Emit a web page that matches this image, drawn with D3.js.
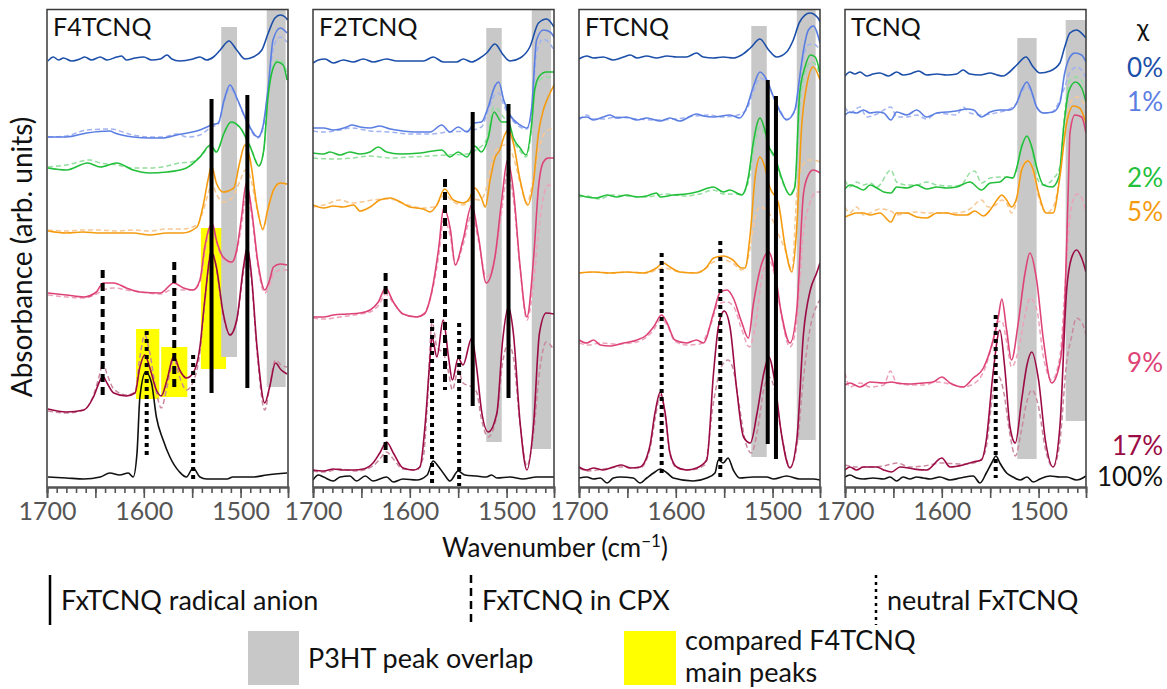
<!DOCTYPE html>
<html>
<head>
<meta charset="utf-8">
<script src="https://cdn.jsdelivr.net/npm/d3@7"></script>
<style>
  body { margin: 0; background: #fff; }
  svg { display: block; font-family: Lato, "Open Sans", sans-serif; }
</style>
</head>
<body>
<svg id="chart" width="1167" height="689"></svg>
<script>
// ---------- data ----------
const panelNames = ["F4TCNQ", "F2TCNQ", "FTCNQ", "TCNQ"];
const dopingLevels = ["0%", "1%", "2%", "5%", "9%", "17%", "100%"];
const tickLabels = [1700, 1600, 1500];

// spectra: [wavenumber (cm-1), offset absorbance (arb. units)]
// F4TCNQ
const F4_0 = [[1699,4.26],[1693.5,4.30],[1688,4.27],[1683,4.29],[1674.5,4.26],[1666,4.28],[1661,4.30],[1654,4.27],[1645,4.30],[1638,4.27],[1628,4.30],[1623,4.31],[1618,4.27],[1609,4.29],[1600,4.30],[1592,4.27],[1583,4.28],[1576,4.32],[1571,4.28],[1563,4.26],[1549,4.28],[1542,4.30],[1535,4.27],[1528,4.30],[1521,4.37],[1512,4.46],[1504,4.37],[1495.5,4.28],[1487,4.30],[1478,4.37],[1471.4,4.54],[1464.5,4.69],[1459,4.72],[1454,4.70],[1451.5,4.67]];
const F4_1 = [[1699,3.50],[1680,3.50],[1659,3.54],[1635,3.56],[1630,3.54],[1611,3.50],[1594,3.49],[1580,3.49],[1566,3.52],[1555,3.54],[1542,3.57],[1530,3.62],[1523,3.64],[1517,3.87],[1511,4.02],[1503,3.87],[1494,3.67],[1482,3.50],[1477,3.60],[1471,4.04],[1466.5,4.47],[1459,4.59],[1452,4.54]];
const F4_1d = [[1699,3.50],[1680,3.51],[1659,3.57],[1635,3.58],[1611,3.52],[1594,3.50],[1580,3.50],[1566,3.53],[1555,3.50],[1542,3.52],[1530,3.60],[1523,3.63],[1517,3.85],[1511,3.99],[1503,3.86],[1494,3.66],[1482,3.49],[1477,3.58],[1471,4.00],[1466,4.40],[1459,4.50],[1452,4.45]];
const F4_2 = [[1699,3.19],[1680,3.17],[1658,3.24],[1645,3.20],[1628,3.24],[1611,3.17],[1594,3.14],[1576,3.15],[1556,3.19],[1542,3.30],[1531,3.42],[1525,3.35],[1517,3.54],[1510,3.65],[1501,3.60],[1490,3.40],[1481,3.21],[1476,3.37],[1472,3.87],[1467,4.17],[1462,4.25],[1456,4.22],[1452,4.07]];
const F4_2d = [[1699,3.20],[1680,3.22],[1656,3.27],[1645,3.24],[1628,3.22],[1611,3.19],[1594,3.19],[1576,3.21],[1563,3.24],[1551,3.25],[1542,3.30],[1531,3.40],[1525,3.35],[1517,3.54],[1510,3.64],[1501,3.60],[1490,3.41],[1481,3.22],[1476,3.37],[1472,3.87],[1467,4.18],[1462,4.27],[1456,4.25],[1452,4.12]];
const F4_5 = [[1699,2.56],[1680,2.54],[1663,2.55],[1645,2.54],[1628,2.54],[1611,2.54],[1594,2.52],[1576,2.54],[1560,2.54],[1545,2.60],[1539,2.80],[1533,3.10],[1530,3.21],[1525,3.04],[1518,2.95],[1507,2.99],[1501,3.24],[1495.5,3.42],[1490,3.27],[1483,2.80],[1477,2.58],[1472,2.77],[1466,2.97],[1459,3.04],[1452,3.03]];
const F4_5d = [[1699,2.57],[1680,2.56],[1663,2.57],[1645,2.57],[1628,2.56],[1611,2.57],[1594,2.56],[1576,2.58],[1560,2.58],[1545,2.62],[1539,2.75],[1533,2.95],[1530,3.04],[1525,2.93],[1518,2.85],[1510,2.88],[1501,3.05],[1495,3.17],[1490,3.10],[1483,2.78],[1477,2.57],[1472,2.75],[1466,2.96],[1459,3.03],[1452,3.03]];
const F4_9 = [[1699,1.94],[1680,1.92],[1662,1.90],[1649,1.95],[1642,2.04],[1631,2.04],[1618,1.99],[1604,1.95],[1583,1.94],[1569,2.04],[1559,1.99],[1549,1.97],[1542,2.07],[1537,2.40],[1532,2.60],[1529,2.63],[1525,2.47],[1518,2.30],[1509,2.25],[1504,2.37],[1499,2.70],[1494,3.04],[1489,2.80],[1482,2.24],[1475,1.97],[1470,2.07],[1466,2.20],[1459,2.23],[1452,2.22]];
const F4_9d = [[1699,1.92],[1680,1.90],[1662,1.89],[1649,1.93],[1642,1.97],[1631,1.99],[1618,1.97],[1604,1.95],[1583,1.93],[1569,1.98],[1559,1.97],[1549,1.97],[1542,2.05],[1537,2.35],[1532,2.58],[1529,2.60],[1525,2.45],[1518,2.28],[1509,2.24],[1504,2.35],[1499,2.62],[1494,2.92],[1489,2.74],[1482,2.20],[1475,1.94],[1470,2.02],[1466,2.13],[1459,2.17],[1452,2.17]];
const F4_17 = [[1699,0.78],[1680,0.75],[1662,0.77],[1652,0.90],[1645,1.07],[1642.5,1.11],[1638,1.04],[1631,0.94],[1618,0.91],[1609,0.94],[1604,1.20],[1599,1.32],[1594,1.20],[1587,0.97],[1582,0.91],[1576,1.07],[1569,1.31],[1563,1.17],[1556,1.09],[1549,1.14],[1542,1.40],[1537,1.87],[1530,2.35],[1525,2.20],[1518,1.74],[1511,1.52],[1504,1.67],[1497,2.20],[1493,2.40],[1489,2.14],[1483,1.40],[1475,0.84],[1470,1.00],[1464,1.24],[1458,1.17],[1452,1.13]];
const F4_17d = [[1699,0.76],[1680,0.74],[1662,0.77],[1652,0.92],[1645,1.15],[1642.5,1.25],[1638,1.13],[1631,0.98],[1618,0.92],[1609,0.95],[1604,1.30],[1599,1.52],[1594,1.35],[1587,0.95],[1582,0.79],[1576,1.00],[1569,1.28],[1563,1.10],[1556,0.97],[1549,1.05],[1542,1.35],[1537,1.85],[1530,2.38],[1525,2.18],[1518,1.72],[1511,1.52],[1504,1.66],[1497,2.15],[1493,2.36],[1489,2.10],[1483,1.35],[1475,0.77],[1470,1.00],[1464,1.27],[1458,1.22],[1452,1.20]];
const F4_100 = [[1699,0.10],[1680,0.09],[1662,0.08],[1645,0.10],[1635,0.14],[1625,0.12],[1616,0.14],[1611,0.10],[1607,0.34],[1604,0.90],[1598,1.15],[1592,1.04],[1587,0.70],[1580,0.47],[1573,0.30],[1563,0.15],[1556,0.10],[1549,0.19],[1542,0.10],[1535,0.08],[1514,0.08],[1508,0.10],[1487,0.10],[1473,0.12],[1452,0.14]];

// F2TCNQ
const F2_0 = [[1700,4.24],[1694.5,4.27],[1687.6,4.28],[1679,4.24],[1668.7,4.27],[1658.4,4.25],[1648,4.28],[1637.7,4.25],[1624,4.28],[1613.5,4.26],[1600,4.26],[1586,4.26],[1575.7,4.30],[1565.4,4.25],[1551.6,4.25],[1544.7,4.28],[1536,4.25],[1527.5,4.29],[1520.6,4.34],[1512,4.43],[1503.4,4.32],[1496.5,4.26],[1486,4.29],[1476,4.40],[1467,4.64],[1458.6,4.68],[1451,4.60]];
const F2_1 = [[1700,3.59],[1689,3.59],[1679,3.57],[1665,3.60],[1660,3.62],[1651.5,3.60],[1641,3.59],[1631,3.61],[1620,3.58],[1607,3.56],[1593,3.55],[1579,3.55],[1567,3.62],[1558.5,3.55],[1550,3.60],[1541,3.55],[1533,3.64],[1526,3.65],[1519,3.80],[1512,4.01],[1508,4.05],[1503,3.87],[1496.5,3.72],[1486,3.62],[1479,3.59],[1474,3.80],[1469,4.47],[1462,4.57],[1455,4.55],[1451,4.50]];
const F2_1d = [[1700,3.56],[1689,3.55],[1672,3.57],[1660,3.59],[1641,3.56],[1620,3.55],[1600,3.53],[1579,3.53],[1560,3.55],[1541,3.56],[1526,3.60],[1519,3.77],[1512,3.92],[1508,3.94],[1503,3.82],[1496.5,3.70],[1486,3.60],[1479,3.58],[1474,3.75],[1469,4.35],[1462,4.48],[1455,4.43],[1451,4.37]];
const F2_2 = [[1700,3.34],[1689,3.33],[1682.5,3.35],[1672,3.32],[1662,3.35],[1651.5,3.33],[1641,3.35],[1632.5,3.40],[1624,3.35],[1610,3.33],[1589,3.34],[1567,3.37],[1558.5,3.30],[1550,3.35],[1541,3.30],[1533,3.41],[1526,3.35],[1519,3.49],[1513,3.75],[1505,3.65],[1498,3.65],[1493,3.49],[1486,3.39],[1480,3.32],[1474,3.64],[1471,3.97],[1466,4.11],[1459,4.15],[1451,4.15]];
const F2_2d = [[1700,3.29],[1680,3.28],[1660,3.29],[1641,3.31],[1620,3.29],[1600,3.30],[1580,3.31],[1560,3.32],[1541,3.33],[1530,3.38],[1521,3.47],[1513,3.80],[1505,3.72],[1498,3.62],[1493,3.47],[1486,3.36],[1480,3.30],[1474,3.60],[1471,3.95],[1466,4.07],[1459,4.10],[1451,4.09]];
const F2_5 = [[1700,2.82],[1689,2.79],[1679,2.81],[1669,2.80],[1658,2.82],[1651.5,2.76],[1641,2.80],[1631,2.87],[1620,2.89],[1610,2.85],[1600,2.80],[1586,2.78],[1579,2.75],[1572,2.82],[1564,2.98],[1555,2.87],[1545,2.84],[1538,2.89],[1533,2.99],[1526,2.89],[1522,2.80],[1517,3.07],[1512,3.29],[1507,3.37],[1502,3.52],[1498,3.57],[1493,3.44],[1486,3.07],[1478,2.82],[1472.4,3.04],[1467,3.54],[1462,3.77],[1457,3.90],[1451,4.02]];
const F2_5d = [[1700,2.80],[1689,2.82],[1672,2.87],[1660,2.84],[1650,2.85],[1638,2.87],[1620,2.88],[1605,2.83],[1586,2.79],[1575,2.80],[1564,2.92],[1555,2.85],[1545,2.82],[1535,2.88],[1528,2.87],[1522,2.95],[1517,3.17],[1512,3.35],[1507,3.40],[1502,3.42],[1498,3.40],[1493,3.30],[1486,3.04],[1479,2.84],[1472,3.10],[1466,3.40],[1460,3.55],[1451,3.59]];
const F2_9 = [[1700,1.70],[1689,1.70],[1679,1.72],[1665,1.73],[1651.5,1.74],[1641,1.77],[1632.5,1.85],[1625,1.99],[1617,1.85],[1607,1.73],[1593,1.70],[1585,1.73],[1577,1.97],[1570,2.40],[1565,2.79],[1558,2.57],[1553,2.22],[1545,2.47],[1536,2.82],[1529,2.50],[1521,2.04],[1512,2.30],[1505,2.87],[1499,3.27],[1493,2.97],[1486,2.20],[1479,1.70],[1472,2.30],[1467,3.00],[1462,3.25],[1457,3.29],[1451,3.29]];
const F2_9d = [[1700,1.69],[1689,1.68],[1672,1.70],[1651.5,1.73],[1641,1.75],[1632,1.82],[1625,1.93],[1617,1.84],[1607,1.73],[1593,1.70],[1585,1.74],[1577,1.95],[1570,2.32],[1565,2.67],[1558,2.50],[1553,2.22],[1545,2.42],[1536,2.72],[1529,2.46],[1521,2.10],[1512,2.30],[1505,2.76],[1499,3.14],[1493,2.88],[1486,2.18],[1479,1.67],[1472,2.05],[1467,2.55],[1462,2.90],[1457,3.02],[1451,3.00]];
const F2_17 = [[1700,0.17],[1689,0.16],[1679,0.18],[1669,0.17],[1658,0.17],[1648,0.18],[1638,0.24],[1631,0.34],[1624,0.45],[1617,0.34],[1607,0.19],[1596,0.17],[1589.5,0.20],[1584,0.64],[1579,1.30],[1577,1.50],[1572,1.30],[1565.5,1.67],[1560,1.30],[1556,1.07],[1550,1.29],[1545,1.22],[1536,1.49],[1531,1.20],[1526,0.77],[1519,0.55],[1510,0.74],[1504,1.47],[1498,1.80],[1493,1.54],[1486,0.64],[1479,0.17],[1472,0.64],[1466,1.54],[1459,1.74],[1451,1.73]];
const F2_17d = [[1700,0.16],[1689,0.15],[1672,0.18],[1655,0.16],[1638,0.21],[1631,0.28],[1624,0.35],[1617,0.28],[1607,0.18],[1593,0.17],[1586,0.30],[1582,0.80],[1577,1.65],[1572,1.40],[1565,1.33],[1560,1.15],[1556,0.97],[1550,1.17],[1545,1.04],[1536,1.00],[1531,0.95],[1526,0.68],[1519,0.50],[1510,0.72],[1504,1.25],[1498,1.43],[1493,1.30],[1486,0.62],[1479,0.21],[1472,0.55],[1466,1.15],[1459,1.45],[1451,1.37]];
const F2_100 = [[1700,0.07],[1694.5,0.12],[1689,0.10],[1679,0.06],[1672,0.10],[1662,0.11],[1655,0.06],[1646,0.11],[1638,0.06],[1624,0.10],[1617,0.05],[1607,0.08],[1593,0.07],[1582,0.12],[1576,0.26],[1570,0.20],[1564,0.12],[1558.5,0.06],[1550,0.16],[1543,0.12],[1531,0.11],[1521,0.10],[1515.5,0.12],[1510,0.09],[1496.5,0.10],[1483,0.08],[1469,0.10],[1451,0.10]];

// FTCNQ
const F1_0 = [[1700,4.28],[1692,4.31],[1685,4.29],[1675,4.30],[1664.5,4.27],[1654,4.30],[1647,4.32],[1640,4.29],[1630,4.31],[1620,4.29],[1609,4.31],[1599,4.30],[1589,4.30],[1578.5,4.34],[1571.6,4.30],[1561,4.29],[1551,4.30],[1540.6,4.29],[1532,4.32],[1523,4.39],[1513,4.48],[1504,4.37],[1496,4.30],[1485.5,4.35],[1478.6,4.47],[1472,4.65],[1461.4,4.74],[1453,4.69],[1451,4.65]];
const F1_1 = [[1700,3.69],[1692,3.70],[1685,3.67],[1675,3.70],[1668,3.72],[1661,3.69],[1651,3.70],[1640,3.67],[1630,3.69],[1616,3.66],[1606,3.69],[1596,3.66],[1578.5,3.73],[1571.6,3.71],[1561,3.70],[1544,3.72],[1534,3.69],[1527,3.79],[1520,4.00],[1513,4.15],[1506,4.07],[1499,3.90],[1492,3.75],[1485.5,3.67],[1477,3.77],[1472,4.10],[1468,4.37],[1463,4.57],[1458,4.61],[1451,4.44]];
const F1_1d = [[1700,3.67],[1692,3.72],[1685,3.68],[1675,3.68],[1661,3.70],[1640,3.68],[1620,3.67],[1600,3.68],[1580,3.71],[1566,3.72],[1552,3.70],[1540,3.71],[1527,3.77],[1520,3.95],[1513,4.09],[1506,4.04],[1499,3.90],[1492,3.76],[1485.5,3.68],[1477,3.76],[1472,4.05],[1468,4.30],[1463,4.42],[1458,4.43],[1451,4.37]];
const F1_2 = [[1700,2.92],[1692,2.90],[1682,2.89],[1671,2.92],[1661,2.90],[1651,2.92],[1640,2.90],[1630,2.91],[1620,2.94],[1616,2.90],[1602.6,2.92],[1589,2.93],[1578.5,2.95],[1561,3.00],[1551,2.95],[1544,2.97],[1532,2.92],[1525,3.10],[1520,3.44],[1513,3.69],[1508,3.57],[1504,3.41],[1497.5,3.30],[1491,3.10],[1482,2.92],[1477,3.00],[1472,3.94],[1466.5,4.20],[1461,4.32],[1456,4.30],[1451,4.14]];
const F1_2d = [[1700,2.90],[1692,2.91],[1680,2.88],[1665,2.92],[1650,2.91],[1630,2.90],[1610,2.93],[1590,2.91],[1575,2.93],[1561,2.97],[1551,2.93],[1540,2.93],[1532,2.93],[1525,3.05],[1520,3.35],[1513,3.60],[1508,3.52],[1504,3.40],[1497.5,3.27],[1491,3.08],[1482,2.93],[1477,3.02],[1472,3.80],[1466,4.15],[1460,4.25],[1455,4.22],[1451,4.10]];
const F1_5 = [[1700,2.14],[1685,2.15],[1668,2.14],[1651,2.15],[1633.6,2.14],[1620,2.19],[1613,2.24],[1606,2.20],[1596,2.15],[1578.5,2.14],[1568,2.20],[1561,2.29],[1551,2.31],[1541,2.27],[1532,2.19],[1528.5,2.19],[1523,2.54],[1518,3.10],[1513,3.30],[1508,3.20],[1503,3.00],[1494,2.84],[1487,2.40],[1480,2.15],[1475,2.60],[1470,3.60],[1465,4.00],[1458,4.20],[1451,4.07]];
const F1_5d = [[1700,2.14],[1685,2.15],[1668,2.14],[1651,2.15],[1630,2.14],[1620,2.17],[1613,2.19],[1600,2.16],[1585,2.14],[1571,2.17],[1561,2.25],[1550,2.27],[1540,2.23],[1532,2.17],[1528,2.20],[1523,2.40],[1518,2.70],[1513,2.80],[1506,2.77],[1500,2.67],[1494,2.53],[1487,2.37],[1480,2.17],[1475,2.94],[1470,3.20],[1463,3.27],[1458,3.27],[1451,3.25]];
const F1_9 = [[1700,1.47],[1692,1.44],[1685,1.47],[1678,1.42],[1668,1.41],[1654,1.44],[1640,1.47],[1630,1.52],[1623,1.60],[1614.6,1.72],[1609,1.64],[1601,1.47],[1589,1.44],[1578.5,1.47],[1571.6,1.44],[1561,1.74],[1554,1.95],[1547,1.97],[1540.6,1.89],[1532,1.65],[1525,1.49],[1520,1.82],[1511,2.24],[1504,2.35],[1497.5,2.14],[1491,1.74],[1482,1.44],[1475,1.77],[1468,2.94],[1463,3.12],[1458,3.17],[1451,3.14]];
const F1_9d = [[1700,1.44],[1690,1.42],[1678,1.44],[1660,1.43],[1640,1.45],[1630,1.50],[1623,1.57],[1615,1.68],[1609,1.62],[1601,1.46],[1589,1.42],[1575,1.43],[1564,1.62],[1556,1.83],[1547,1.85],[1540,1.80],[1532,1.58],[1524,1.40],[1518,1.60],[1511,2.10],[1504,2.27],[1497.5,2.10],[1491,1.72],[1482,1.40],[1475,1.65],[1468,2.55],[1461,2.85],[1455,2.95],[1451,2.95]];
const F1_17 = [[1700,0.20],[1692,0.17],[1685,0.19],[1675,0.17],[1664.5,0.20],[1656,0.22],[1647,0.19],[1637,0.20],[1627,0.40],[1621.5,0.74],[1616,0.95],[1611,0.74],[1606,0.34],[1599,0.20],[1589,0.17],[1578.5,0.19],[1568,0.27],[1561,1.14],[1556,1.60],[1550,1.76],[1544,1.60],[1537,0.97],[1530,0.50],[1523,0.44],[1516,0.74],[1509,1.14],[1504,1.30],[1498,1.07],[1491,0.54],[1482,0.19],[1475,0.47],[1468,1.54],[1461,1.97],[1454.5,2.14],[1451,2.24]];
const F1_17d = [[1700,0.19],[1690,0.16],[1675,0.18],[1656,0.20],[1637,0.19],[1627,0.37],[1621,0.70],[1616,0.92],[1611,0.72],[1606,0.33],[1599,0.19],[1585,0.17],[1570,0.22],[1561,0.85],[1553,1.20],[1546,1.27],[1540,1.15],[1535,0.85],[1528,0.45],[1522,0.34],[1515,0.60],[1509,0.98],[1504,1.10],[1498,0.98],[1491,0.54],[1482,0.20],[1475,0.40],[1468,1.10],[1461,1.60],[1455,1.80],[1451,1.87]];
const F1_100 = [[1700,0.09],[1692,0.10],[1685,0.08],[1678,0.09],[1671,0.04],[1664.5,0.09],[1657.6,0.10],[1644,0.09],[1637,0.04],[1630,0.09],[1623,0.14],[1616,0.18],[1609,0.14],[1602.6,0.09],[1582,0.06],[1568,0.09],[1559.5,0.14],[1556,0.27],[1551,0.24],[1546,0.29],[1540.6,0.17],[1534,0.09],[1520,0.10],[1506,0.10],[1499,0.08],[1485.5,0.11],[1472,0.08],[1458,0.08],[1451,0.07]];

// TCNQ
const T_0 = [[1700,4.11],[1695,4.15],[1689.7,4.13],[1684.5,4.15],[1677.6,4.11],[1671,4.13],[1664,4.14],[1655,4.11],[1646.6,4.15],[1640,4.12],[1633,4.13],[1624,4.16],[1615.6,4.12],[1605,4.13],[1595,4.12],[1584.6,4.13],[1578,4.17],[1571,4.13],[1560.5,4.12],[1550,4.14],[1543,4.12],[1536.5,4.11],[1530,4.15],[1522.6,4.22],[1513,4.30],[1505.5,4.20],[1498.6,4.14],[1488,4.16],[1478,4.24],[1473,4.40],[1467.6,4.54],[1460.7,4.57],[1453.8,4.52],[1451,4.49]];
const T_1 = [[1700,3.72],[1695,3.75],[1688,3.74],[1681,3.77],[1674,3.74],[1667,3.75],[1660,3.74],[1652.5,3.67],[1646.6,3.75],[1636,3.72],[1626,3.77],[1615.6,3.70],[1605,3.74],[1595,3.75],[1584.6,3.76],[1574,3.78],[1567,3.77],[1559,3.70],[1550,3.75],[1540,3.77],[1530,3.77],[1522.6,3.84],[1517.5,3.97],[1512,4.05],[1507,3.95],[1502,3.80],[1495,3.74],[1485,3.75],[1478,3.84],[1473,4.14],[1467.6,4.30],[1462.5,4.34],[1455.5,4.32],[1451,4.25]];
const T_1d = [[1700,3.80],[1695,3.74],[1684.5,3.80],[1677.6,3.70],[1667,3.73],[1652.5,3.80],[1646.6,3.70],[1636,3.70],[1626,3.72],[1615.6,3.68],[1605,3.74],[1584.6,3.72],[1578,3.80],[1571,3.74],[1559,3.72],[1540,3.75],[1530,3.78],[1522.6,3.84],[1517.5,3.95],[1512,4.01],[1507,3.93],[1502,3.80],[1495,3.74],[1488,3.74],[1478,3.87],[1473,4.00],[1467.6,4.15],[1460,4.20],[1455,4.16],[1451,4.09]];
const T_2 = [[1700,2.98],[1695,3.02],[1688,3.00],[1681,2.97],[1674,3.02],[1667,2.99],[1660,2.95],[1652.5,2.94],[1646.6,3.00],[1636,2.99],[1626,3.02],[1615.6,2.98],[1605,3.00],[1595,2.99],[1584.6,3.00],[1571,3.05],[1559,2.97],[1550,3.04],[1540,3.05],[1533,3.10],[1526.5,3.09],[1522.6,3.19],[1517.5,3.40],[1512,3.51],[1507,3.40],[1502,3.20],[1495,3.02],[1486,3.00],[1479,3.10],[1474,3.60],[1469,3.95],[1462,4.05],[1455.5,3.99],[1451,3.85]];
const T_2d = [[1700,3.07],[1695,3.00],[1688,3.05],[1681,3.02],[1674,3.04],[1667,3.00],[1652.5,3.17],[1646.6,3.05],[1636,3.02],[1626,3.02],[1615.6,3.05],[1605,3.02],[1590,3.01],[1580,3.02],[1571,3.14],[1566,3.16],[1559,3.04],[1550,3.09],[1540,3.10],[1533,3.10],[1527,3.09],[1522.6,3.17],[1517.5,3.44],[1512,3.50],[1507,3.37],[1502,3.10],[1495,3.02],[1485,3.08],[1478,3.20],[1473,3.74],[1467.6,4.07],[1460,4.10],[1451,3.99]];
const T_5 = [[1700,2.70],[1695,2.72],[1688,2.74],[1681,2.74],[1674,2.72],[1664,2.74],[1652.5,2.65],[1646.6,2.74],[1636,2.74],[1626,2.70],[1615.6,2.69],[1605,2.74],[1595,2.74],[1584.6,2.72],[1574,2.72],[1566,2.76],[1557,2.71],[1550,2.77],[1543,2.87],[1538,2.92],[1533,2.87],[1528,2.80],[1522.6,2.89],[1517.5,3.17],[1511,3.26],[1505.5,3.17],[1500,2.94],[1492,2.74],[1485,2.74],[1478,3.10],[1471,3.64],[1464,3.81],[1457.6,3.79],[1451,3.64]];
const T_5d = [[1700,2.80],[1695,2.74],[1688,2.80],[1681,2.72],[1674,2.74],[1664,2.78],[1652.5,2.76],[1646.6,2.72],[1636,2.74],[1626,2.75],[1615.6,2.74],[1600,2.74],[1584.6,2.74],[1571,2.78],[1559,2.87],[1552,2.80],[1543,2.83],[1538,2.87],[1533,2.84],[1528,2.74],[1522.6,2.87],[1517.5,3.20],[1511,3.27],[1505.5,3.13],[1500,2.90],[1492,2.74],[1485,2.80],[1478,3.10],[1473,3.54],[1467.6,3.84],[1460,3.90],[1451,3.80]];
const T_9 = [[1700,1.02],[1695,1.04],[1684.5,1.00],[1674,1.05],[1660,1.04],[1652,1.05],[1646.6,1.04],[1633,1.03],[1619,1.04],[1609,1.05],[1600,1.10],[1591.5,1.04],[1578,1.00],[1567.5,1.09],[1557,1.19],[1547,1.47],[1541.6,1.70],[1538,1.88],[1533,1.57],[1528,1.27],[1521,1.64],[1514,2.14],[1509,2.34],[1502,2.07],[1495,1.47],[1486.5,1.04],[1478,1.24],[1473,1.80],[1469,3.10],[1467.6,3.54],[1462.5,3.72],[1455.5,3.70],[1451,3.54]];
const T_9d = [[1700,1.14],[1695,1.00],[1684.5,1.04],[1674,1.00],[1660,1.02],[1653,1.16],[1646.6,1.04],[1633,1.02],[1619,1.02],[1605,1.05],[1591.5,1.03],[1578,1.00],[1567.5,1.03],[1557,1.15],[1547,1.45],[1541.6,1.65],[1538,1.66],[1533,1.45],[1528,1.20],[1521,1.36],[1514,1.72],[1509,1.89],[1502,1.78],[1495,1.30],[1486.5,1.07],[1478,1.30],[1473,1.95],[1469,2.55],[1465,2.85],[1460,2.93],[1455,2.88],[1451,2.75]];
const T_17 = [[1700,0.17],[1695,0.20],[1688,0.17],[1681,0.20],[1667,0.20],[1660,0.17],[1652,0.15],[1643,0.20],[1629,0.18],[1615.6,0.17],[1600,0.29],[1591.5,0.20],[1578,0.22],[1567.5,0.25],[1559,0.27],[1554,0.47],[1547,1.14],[1540,1.57],[1535,1.20],[1529.5,0.60],[1524,0.44],[1517.5,0.87],[1512,1.22],[1507,1.35],[1500,1.07],[1493,0.47],[1485,0.20],[1478,0.60],[1471,1.97],[1466,2.29],[1460.7,2.37],[1455.5,2.29],[1451,2.15]];
const T_17d = [[1700,0.22],[1688,0.20],[1674,0.20],[1660,0.21],[1646,0.24],[1633,0.20],[1619,0.21],[1600,0.24],[1578,0.23],[1567,0.24],[1559,0.28],[1554,0.40],[1547,0.95],[1541,1.10],[1536,0.95],[1530,0.55],[1524,0.31],[1518,0.55],[1512,0.86],[1507,0.97],[1500,0.80],[1493,0.38],[1485,0.20],[1478,0.45],[1471,1.25],[1466,1.50],[1461,1.69],[1455,1.64],[1451,1.52]];
const T_100 = [[1700,0.10],[1695,0.12],[1688,0.09],[1681,0.08],[1671,0.09],[1660,0.08],[1653.5,0.10],[1646.6,0.06],[1640,0.10],[1633,0.08],[1626,0.10],[1619,0.09],[1612,0.08],[1602,0.10],[1591.5,0.07],[1581,0.09],[1567.5,0.11],[1560.5,0.04],[1554,0.14],[1548.5,0.24],[1544,0.31],[1540,0.24],[1533,0.14],[1526.5,0.10],[1519,0.07],[1512,0.10],[1505.5,0.05],[1498.6,0.08],[1488,0.11],[1478,0.10],[1471,0.10],[1460.7,0.07],[1451,0.11]];

// peak markers: [panel, wavenumber, upper, lower]
const radicalAnion = [["F4TCNQ",1530,3.88,0.94],["F4TCNQ",1493,3.92,0.99],["F2TCNQ",1535,3.75,0.81],["F2TCNQ",1498,3.83,0.89],["FTCNQ",1505,4.07,0.43],["FTCNQ",1496.5,3.91,0.28]];
const inCPX = [["F4TCNQ",1642.5,2.17,0.89],["F4TCNQ",1568.5,2.25,0.97],["F2TCNQ",1625,2.14,0.22],["F2TCNQ",1563.6,3.08,0.97]];
const neutral = [["F4TCNQ",1597,1.56,0.30],["F4TCNQ",1549,1.32,0.07],["F2TCNQ",1577,1.68,0.01],["F2TCNQ",1549,1.64,0.01],["FTCNQ",1614.6,2.34,0.10],["FTCNQ",1554,2.46,0.10],["TCNQ",1544.3,1.72,0.09]];
// shaded regions: [panel, from, to, upper, lower]
const p3htOverlap = [["F4TCNQ",1520,1503.7,4.60,1.30],["F4TCNQ",1473,1453.4,4.77,1.00],["F2TCNQ",1521,1505,4.59,0.45],["F2TCNQ",1474,1454,4.77,0.38],["FTCNQ",1522,1506,4.61,0.30],["FTCNQ",1475,1455.5,4.77,0.47],["TCNQ",1522,1502,4.49,0.28],["TCNQ",1472,1451,4.67,0.66]];
const comparedPeaks = [["F4TCNQ",1608,1584,1.58,0.88],["F4TCNQ",1582,1555,1.40,0.90],["F4TCNQ",1541,1515,2.59,1.18]];

// ---------- assembly ----------
const solidSeries = {
  F4TCNQ: [F4_0, F4_1, F4_2, F4_5, F4_9, F4_17, F4_100],
  F2TCNQ: [F2_0, F2_1, F2_2, F2_5, F2_9, F2_17, F2_100],
  FTCNQ:  [F1_0, F1_1, F1_2, F1_5, F1_9, F1_17, F1_100],
  TCNQ:   [T_0, T_1, T_2, T_5, T_9, T_17, T_100]
};
const dashedSeries = {
  F4TCNQ: [null, F4_1d, F4_2d, F4_5d, F4_9d, F4_17d, null],
  F2TCNQ: [null, F2_1d, F2_2d, F2_5d, F2_9d, F2_17d, null],
  FTCNQ:  [null, F1_1d, F1_2d, F1_5d, F1_9d, F1_17d, null],
  TCNQ:   [null, T_1d, T_2d, T_5d, T_9d, T_17d, null]
};

// ---------- styles / layout ----------
const solidColors = ["#1c4fa9", "#5b7ee3", "#22bf3a", "#f59b10", "#de4377", "#9b0b45", "#111111"];
const dashColors  = [null, "#a2b3f0", "#94de9f", "#f8c894", "#eca2b7", "#c98a9e", null];
const levelLabelY = [77, 111, 187, 221, 372, 455, 486];

const svg = d3.select("#chart");
const panelLeft = [47, 313, 579, 845];
const panelW = 241;
const plotTop = 9.5, plotBottom = 487;
const y = d3.scaleLinear().domain([0, 4.78]).range([487, 9]);

const defs = svg.append("defs");

panelNames.forEach((name, pi) => {
  const left = panelLeft[pi];
  const x = d3.scaleLinear().domain([1700, 1451]).range([left, left + panelW]);
  const g = svg.append("g");

  defs.append("clipPath").attr("id", "clip" + pi)
    .append("rect").attr("x", left).attr("y", plotTop).attr("width", panelW).attr("height", plotBottom - plotTop);

  const plot = g.append("g").attr("clip-path", `url(#clip${pi})`);

  // yellow highlight, then P3HT grey bands
  plot.selectAll("rect.cmp").data(comparedPeaks.filter(d => d[0] === name)).join("rect")
    .attr("class", "cmp")
    .attr("x", d => x(d[1])).attr("width", d => x(d[2]) - x(d[1]))
    .attr("y", d => y(d[3])).attr("height", d => y(d[4]) - y(d[3]))
    .attr("fill", "#ffff00");
  plot.selectAll("rect.p3ht").data(p3htOverlap.filter(d => d[0] === name)).join("rect")
    .attr("class", "p3ht")
    .attr("x", d => x(d[1])).attr("width", d => x(d[2]) - x(d[1]))
    .attr("y", d => y(d[3])).attr("height", d => y(d[4]) - y(d[3]))
    .attr("fill", "#c8c8c8");

  const line = d3.line().x(d => x(d[0])).y(d => y(d[1])).curve(d3.curveMonotoneX);
  const sorted = arr => arr.slice().sort((a, b) => b[0] - a[0]);

  dashedSeries[name].forEach((s, i) => {
    if (!s) return;
    plot.append("path").attr("d", line(sorted(s)))
      .attr("fill", "none").attr("stroke", dashColors[i]).attr("stroke-width", 1.5)
      .attr("stroke-dasharray", "5,3");
  });
  solidSeries[name].forEach((s, i) => {
    plot.append("path").attr("d", line(sorted(s)))
      .attr("fill", "none").attr("stroke", solidColors[i]).attr("stroke-width", 1.6);
  });

  // peak markers
  const mark = (arr, dash) => {
    g.append("g").selectAll("line").data(arr.filter(d => d[0] === name)).join("line")
      .attr("x1", d => x(d[1])).attr("x2", d => x(d[1]))
      .attr("y1", d => y(d[2])).attr("y2", d => y(d[3]))
      .attr("stroke", "#000").attr("stroke-width", 4)
      .attr("stroke-dasharray", dash);
  };
  mark(radicalAnion, null);
  mark(inCPX, "8,5");
  mark(neutral, "4,4");

  // frame
  g.append("path")
    .attr("d", `M${left},${plotBottom}V${plotTop}H${left + panelW}V${plotBottom}`)
    .attr("fill", "none").attr("stroke", "#3a3a3a").attr("stroke-width", 1.5);

  // axis: minor and major ticks
  const minor = d3.range(1700, 1451, -10);
  const major = d3.range(1700, 1451, -50);
  const axG = g.append("g").attr("transform", `translate(0,${plotBottom})`);
  axG.call(d3.axisBottom(x).tickValues(minor).tickSize(6).tickFormat(""));
  const axM = g.append("g").attr("transform", `translate(0,${plotBottom})`);
  axM.call(d3.axisBottom(x).tickValues(major).tickSize(11)
    .tickFormat(v => tickLabels.includes(v) ? String(v) : ""));
  [axG, axM].forEach(a => {
    a.select(".domain").attr("stroke", "#555").attr("stroke-width", 1.8);
    a.selectAll(".tick line").attr("stroke", "#555").attr("stroke-width", 1.6);
  });
  axM.selectAll(".tick text").attr("fill", "#555").attr("font-size", 25)
    .attr("font-family", "Lato, sans-serif").attr("y", 15).attr("dy", "0.71em");

  // panel title
  g.append("text").attr("x", left + 6).attr("y", 36).text(name)
    .attr("font-size", 25).attr("fill", "#111");
});

// level labels
svg.append("text").attr("x", 1143).attr("y", 37).attr("text-anchor", "middle")
  .attr("font-size", 25).attr("fill", "#111").text("χ");
svg.selectAll("text.lvl").data(dopingLevels).join("text")
  .attr("class", "lvl")
  .attr("x", 1163).attr("y", (d, i) => levelLabelY[i]).attr("text-anchor", "end")
  .attr("font-size", 26).attr("fill", (d, i) => solidColors[i]).text(d => d);

// axis titles
const xt = svg.append("text").attr("x", 555).attr("y", 557).attr("text-anchor", "middle")
  .attr("font-size", 26).attr("fill", "#111");
xt.append("tspan").text("Wavenumber (cm");
xt.append("tspan").attr("dy", -10).attr("font-size", 17).text("−1");
xt.append("tspan").attr("dy", 10).text(")");
svg.append("text").attr("transform", "translate(32,257) rotate(-90)")
  .attr("text-anchor", "middle").attr("font-size", 28).attr("fill", "#111")
  .text("Absorbance (arb. units)");

// legend
const leg = svg.append("g");
const legendLines = [
  { x: 50, dash: null, label: "FxTCNQ radical anion" },
  { x: 471, dash: "8,5", label: "FxTCNQ in CPX" },
  { x: 876, dash: "3,4", label: "neutral FxTCNQ" }
];
legendLines.forEach(l => {
  leg.append("line").attr("x1", l.x).attr("x2", l.x).attr("y1", 575).attr("y2", 625)
    .attr("stroke", "#000").attr("stroke-width", 2.5)
    .attr("stroke-dasharray", l.dash);
  leg.append("text").attr("x", l.x + 11).attr("y", 610).attr("font-size", 27)
    .attr("fill", "#111").text(l.label);
});
leg.append("rect").attr("x", 248).attr("y", 631).attr("width", 51).attr("height", 54).attr("fill", "#c8c8c8");
leg.append("text").attr("x", 308).attr("y", 668).attr("font-size", 27).attr("fill", "#111").text("P3HT peak overlap");
leg.append("rect").attr("x", 624).attr("y", 631).attr("width", 52).attr("height", 54).attr("fill", "#ffff00");
leg.append("text").attr("x", 685).attr("y", 650).attr("font-size", 27).attr("fill", "#111").text("compared F4TCNQ");
leg.append("text").attr("x", 685).attr("y", 682).attr("font-size", 27).attr("fill", "#111").text("main peaks");
</script>
</body>
</html>
